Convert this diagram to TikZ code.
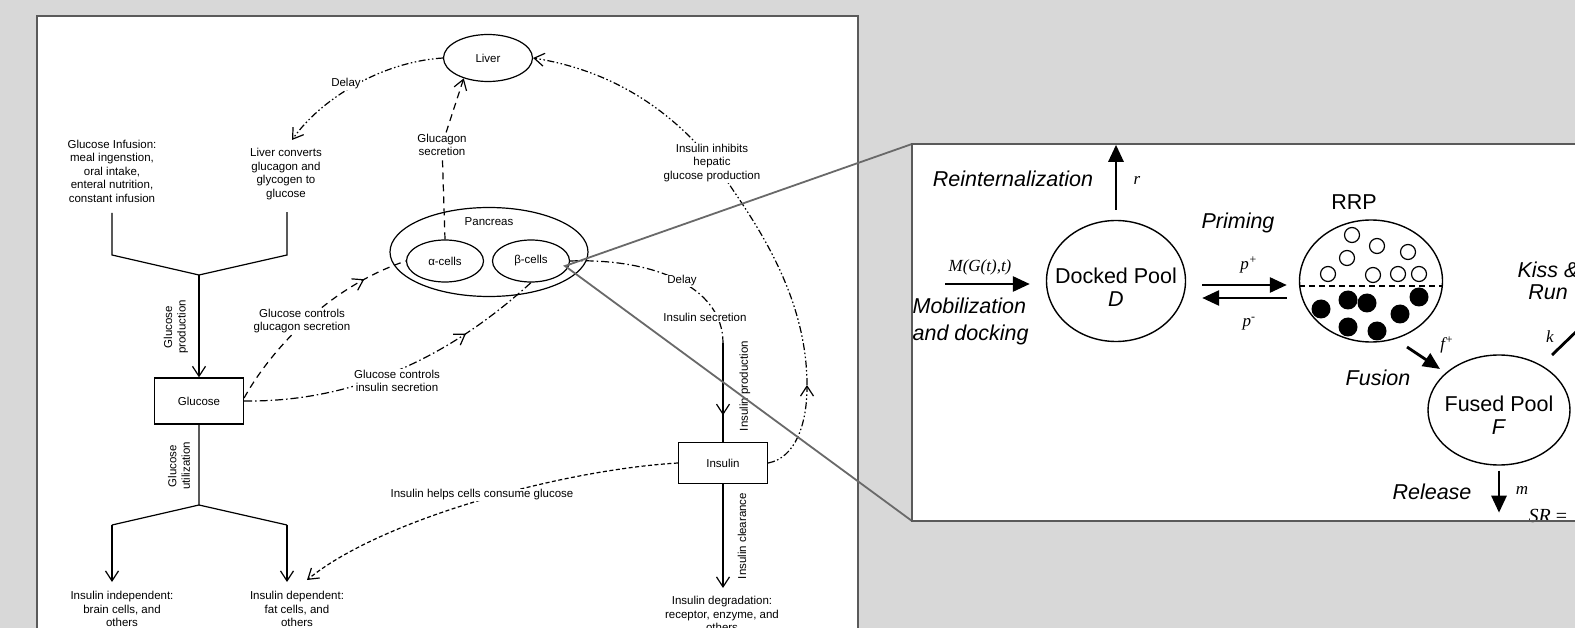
\documentclass[tikz,border=0pt]{standalone}
\usepackage{fontspec}
\setmainfont{Liberation Sans}
\newfontfamily\timesfont{Liberation Serif}
\usetikzlibrary{arrows.meta,shapes.geometric,decorations.markings}

\definecolor{bggray}{RGB}{216,216,216}
\definecolor{framegray}{RGB}{90,90,90}
\definecolor{zoomgray}{RGB}{105,105,105}

\tikzset{
	txt/.style={font=\fontsize{11.5}{13.5}\selectfont, align=center, inner sep=1pt},
	lbl/.style={txt, fill=white},
	oval/.style 2 args={draw, ellipse, line width=1.2pt, minimum width=#1, minimum height=#2, inner sep=0pt, font=\fontsize{11.5}{13.5}\selectfont},
	box/.style={draw, line width=1.2pt, minimum width=89pt, minimum height=44pt, inner sep=0pt, font=\fontsize{11.5}{13.5}\selectfont},
	openarr/.style={-{Straight Barb[length=10pt,width=13pt]}},
	midarr/.style={postaction={decorate}, decoration={markings, mark=at position #1 with {\pgfsetdash{}{0pt}\arrow{Straight Barb[length=10pt,width=13pt]}}}},
	dashlong/.style={dash pattern=on 7pt off 5pt},
	dashdot/.style={dash pattern=on 8pt off 3pt on 1.5pt off 3pt},
	dashdotdot/.style={dash pattern=on 7pt off 2.5pt on 1.5pt off 2.5pt on 1.5pt off 2.5pt},
	dashshort/.style={dash pattern=on 4pt off 2.5pt},
	pool/.style 2 args={draw, ellipse, line width=1.4pt, minimum width=#1, minimum height=#2, inner sep=0pt},
	big/.style={font=\fontsize{21.5}{23}\selectfont, align=center, inner sep=0pt},
	bigit/.style={font=\fontsize{21.5}{27}\selectfont\itshape, align=center, inner sep=0pt},
	rate/.style={font=\fontsize{17}{19}\selectfont\timesfont\itshape, inner sep=0pt},
	fatarr/.style={line width=2.8pt, -{Triangle[length=17pt,width=15pt]}},
}

\begin{document}
\begin{tikzpicture}[x=1pt,y=-1pt,line width=1.2pt]
	\useasboundingbox (0,0) rectangle (1575,628);
	\clip (0,0) rectangle (1575,628);
	\fill[bggray] (0,0) rectangle (1575,628);
	
	% left panel: glucose-insulin loop
	\fill[white] (37,16) rectangle (858,640);
	
	\node[oval={89pt}{47pt}] (liver) at (488,58) {Liver};
	\node[oval={198pt}{89pt}] (pan) at (489,252) {};
	\node[txt] (pant) at (489,222) {Pancreas};
	\node[oval={77pt}{42pt}] (alpha) at (445,261) {α-cells};
	\node[oval={77pt}{42pt}] (beta) at (531,261) {β-cells};
	\node[box, minimum height=46pt] (glu) at (199,401) {Glucose};
	\node[box, minimum height=41pt] (ins) at (723,463) {Insulin};
	
	\node[txt] (inf) at (112,171) {Glucose Infusion:\\meal ingenstion,\\oral intake,\\enteral nutrition,\\constant infusion};
	\node[txt] (conv) at (286,174) {Liver converts\\glucagon and\\glycogen to\\glucose};
	\node[txt] (indep) at (122,609) {Insulin independent:\\brain cells, and\\others};
	\node[txt] (dep) at (297,609) {Insulin dependent:\\fat cells, and\\others};
	\node[txt] (degr) at (722,614) {Insulin degradation:\\receptor, enzyme, and\\others};
	
	\coordinate (k1) at (112,255);
	\coordinate (k2) at (287,255);
	\coordinate (j1) at (199,275);
	\coordinate (j2) at (199,505);
	\coordinate (k3) at (112,525);
	\coordinate (k4) at (287,525);
	\coordinate (e3) at (112,582);
	\coordinate (e4) at (287,582);
	
	\draw ([yshift=-9pt]inf.south) -- (k1) -- (j1) -- (k2) -- ([xshift=1pt,yshift=-11pt]conv.south);
	\draw[openarr] (j1) -- (glu.north);
	\draw (glu.south) -- (j2) -- (k3);
	\draw (j2) -- (k4);
	\draw[openarr] (k3) -- (e3);
	\draw[openarr] (k4) -- (e4);
	\node[txt, rotate=90] at (176,327) {Glucose\\production};
	\node[txt, rotate=90] at (179,466) {Glucose\\utilization};
	
	% insulin column
	\coordinate (s1) at (723,343);
	\draw[dashdot] (beta.east) .. controls (650,258) and (723,285) .. (s1);
	\draw[midarr=0.73] (s1) -- (ins.north);
	\node[lbl] at (682,281) {Delay};
	\node[lbl] at (705,317) {Insulin secretion};
	\node[txt, rotate=90] at (745,386) {Insulin production};
	\coordinate (cl) at (723,588);
	\draw[openarr] (ins.south) -- (cl);
	\node[txt, rotate=90] at (742,536) {Insulin clearance};
	
	% liver links
	\coordinate (cv) at (292,140);
	\draw[dashdotdot, openarr] (liver.west) .. controls (380,62) and (320,100) .. (cv);
	\node[lbl] at (346,84) {Delay};
	\node[lbl] (gs) at (442,145) {Glucagon\\secretion};
	\draw[dashlong, openarr] (alpha.north) -- (gs) -- (liver.220);
	
	\coordinate (il1) at (807,385);
	\draw[dashdotdot, openarr] (ins.east) .. controls (795,458) and (807,425) .. (il1);
	\draw[dashdotdot, openarr] (il1) .. controls (807,300) and (760,230) .. (733,190) .. controls (700,140) and (640,75) .. (liver.east);
	\node[lbl] at (712,163) {Insulin inhibits\\hepatic\\glucose production};
	
	% glucose to pancreas
	\draw[dashlong, midarr=0.79] ([yshift=3pt]glu.east) .. controls (265,360) and (320,290) .. (alpha.west);
	\node[lbl] at (302,321) {Glucose controls\\glucagon secretion};
	\draw[dashdot, midarr=0.74] (glu.east) .. controls (330,402) and (430,375) .. (beta.south);
	\node[lbl] at (397,381) {Glucose controls\\insulin secretion};
	
	\coordinate (hc) at (307,580);
	\draw[dashshort, openarr] (ins.west) .. controls (560,470) and (380,520) .. (hc);
	\node[lbl] at (482,495) {Insulin helps cells consume glucose};
	
	\draw[framegray, line width=2pt] (37,16) rectangle (858,640);
	
	% zoom lines
	\coordinate (zm) at (565,266);
	\coordinate (rpnw) at (912,144);
	\coordinate (rpsw) at (912,521);
	\draw[zoomgray, line width=1.8pt] (rpnw) -- (zm) -- (rpsw);
	
	% right panel: vesicle pools
	\fill[white] (912,144) rectangle (1590,521);
	
	\node[pool={139pt}{121pt}] (dock) at (1116,281) {};
	\node[big] at (1116,287) {Docked Pool\\\textit{D}};
	\node[pool={143pt}{122pt}] (rrp) at (1371,281) {};
	\node[big] at (1354,202) {RRP};
	\node[pool={142pt}{110pt}] (fused) at (1499,410) {};
	\node[big] at (1499,415) {Fused Pool\\\textit{F}};
	
	\draw[line width=1.3pt, dash pattern=on 6pt off 4pt] ([yshift=-5pt]rrp.west) -- ([yshift=-5pt]rrp.east);
	\foreach \x/\y in {1352/235,1377/246,1408/252,1347/258,1328/274,1373/275,1398/274,1419/274}
		\draw[line width=1.2pt] (\x,\y) circle (7.5pt);
	\foreach \x/\y in {1321/309,1348/300,1367/303,1419/297,1400/314,1348/327,1377/331}
		\fill (\x,\y) circle (9.5pt);
	
	\coordinate (mob) at (945,284);
	\draw[fatarr] (mob) -- ([xshift=-16pt,yshift=-3pt]dock.west);
	\node[rate] at (980,267) {M(G(t),t)};
	\node[bigit, align=left, anchor=west] at (912,321) {Mobilization\\and docking};
	
	\draw[fatarr, shorten <=10pt] (dock.north) -- ++(0,-75);
	\node[rate] at (1137,180) {r};
	\node[bigit] at (1013,179) {Reinternalization};
	
	\draw[fatarr, shorten <=16pt, shorten >=12pt] ([yshift=-4pt]dock.east) -- ([yshift=-4pt]rrp.west);
	\draw[fatarr, shorten <=12pt, shorten >=16pt] ([yshift=-17pt]rrp.west) -- ([yshift=-17pt]dock.east);
	\node[rate] at (1249,265) {p\textsuperscript{+}};
	\node[rate] at (1249,324) {p\textsuperscript{-}};
	\node[bigit] at (1238,223) {Priming};
	
	\coordinate (fu1) at (1407,347);
	\coordinate (fu2) at (1440,369);
	\draw[fatarr] (fu1) -- (fu2);
	\node[rate] at (1447,345) {f\textsuperscript{+}};
	\node[bigit] at (1378,378) {Fusion};
	
	\draw[fatarr, shorten <=5pt] (fused.south) -- ++(0,47);
	\node[rate] at (1522,490) {m};
	\node[bigit] at (1432,492) {Release};
	\node[rate, font=\fontsize{20}{22}\selectfont\timesfont\itshape, anchor=base west] at (1528,522) {SR {\upshape =}};
	
	\node[bigit, font=\fontsize{21.5}{22}\selectfont\itshape] at (1548,281) {Kiss \&\\Run};
	\node[rate] at (1550,337) {k};
	\coordinate (kr) at (1582,326);
	\draw[line width=2.8pt] (1552,355) -- (kr);
	
	\draw[framegray, line width=2pt] (912,144) rectangle (1590,521);
\end{tikzpicture}
\end{document}
